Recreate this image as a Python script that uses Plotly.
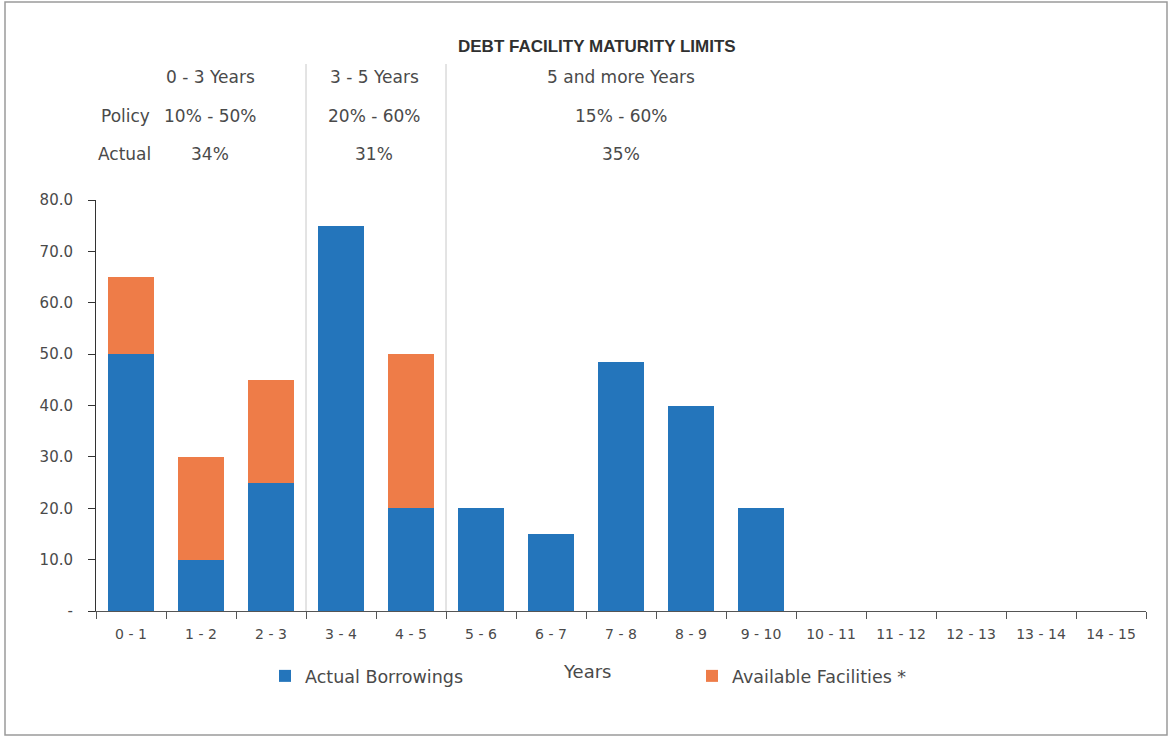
import plotly.graph_objects as go

categories = ["0 - 1", "1 - 2", "2 - 3", "3 - 4", "4 - 5", "5 - 6", "6 - 7", "7 - 8",
              "8 - 9", "9 - 10", "10 - 11", "11 - 12", "12 - 13", "13 - 14", "14 - 15"]
actual_borrowings = [50, 10, 25, 75, 20, 20, 15, 48.5, 40, 20, 0, 0, 0, 0, 0]
available_facilities = [15, 20, 20, 0, 30, 0, 0, 0, 0, 0, 0, 0, 0, 0, 0]
y_tickvals = [0, 10, 20, 30, 40, 50, 60, 70, 80]
y_ticktext = ["-", "10.0", "20.0", "30.0", "40.0", "50.0", "60.0", "70.0", "80.0"]

groups = ["0 - 3 Years", "3 - 5 Years", "5 and more Years"]
policy = ["10% - 50%", "20% - 60%", "15% - 60%"]
actual_pct = ["34%", "31%", "35%"]

W, H = 1171, 738
L, R, T, B = 96, 1146, 200, 611
FONT = "DejaVu Sans"
TXT = "#4a4a4a"

def px_x(px):
    return (px - L) / (R - L)

def px_y(py):
    return (B - py) / (B - T)

fig = go.Figure()
fig.add_trace(go.Bar(x=categories, y=actual_borrowings, name="Actual Borrowings",
                     marker=dict(color="#2475BB", line=dict(width=0)), legend="legend",
                     showlegend=True))
fig.add_trace(go.Bar(x=categories, y=available_facilities, name="Available Facilities *",
                     marker=dict(color="#EE7C48", line=dict(width=0)), legend="legend2",
                     showlegend=True))

def ann(text, x, y, size=17, family=FONT, color=TXT):
    return dict(text=text, x=px_x(x), y=px_y(y), xref="paper", yref="paper",
                xanchor="center", yanchor="middle", showarrow=False,
                font=dict(family=family, size=size, color=color))

annotations = [ann("<b>DEBT FACILITY MATURITY LIMITS</b>", 597, 46, size=17,
                   family="Liberation Sans", color="#303030")]
group_x = [210, 374, 621]
for gx, g, p, a in zip(group_x, groups, policy, actual_pct):
    annotations.append(ann(g, gx, 77))
    annotations.append(ann(p, gx, 116))
    annotations.append(ann(a, gx, 154))
annotations.append(ann("Policy", 125, 116))
annotations.append(ann("Actual", 124, 154))
annotations.append(ann("Years", 587, 671, size=18))

shapes = []
for xb in (2.5, 4.5):
    shapes.append(dict(type="line", xref="x", yref="paper", x0=xb, x1=xb, y0=0, y1=px_y(64),
                       line=dict(color="#c8c8c8", width=1)))
shapes.append(dict(type="rect", xref="paper", yref="paper", x0=px_x(5), x1=px_x(1167),
                   y0=px_y(735), y1=px_y(2), line=dict(color="#9a9a9a", width=1.5),
                   fillcolor="rgba(0,0,0,0)", layer="below"))

fig.update_layout(
    width=W, height=H,
    margin=dict(l=L, r=W - R, t=T, b=H - B, autoexpand=False),
    barmode="stack", bargap=0.33,
    paper_bgcolor="white", plot_bgcolor="white",
    showlegend=True,
    font=dict(family=FONT, size=14, color=TXT),
    annotations=annotations, shapes=shapes,
    legend=dict(orientation="h", x=px_x(265), y=px_y(676), xanchor="left", yanchor="middle",
                font=dict(family=FONT, size=17.5, color=TXT), itemwidth=30,
                bgcolor="rgba(0,0,0,0)"),
    legend2=dict(orientation="h", x=px_x(692), y=px_y(676), xanchor="left", yanchor="middle",
                 font=dict(family=FONT, size=17.5, color=TXT), itemwidth=30,
                 bgcolor="rgba(0,0,0,0)"),
    xaxis=dict(type="category", tickson="boundaries", ticks="outside", ticklen=7,
               tickcolor="#555", showline=True, linecolor="#555", linewidth=1,
               showgrid=False, tickfont=dict(family=FONT, size=14, color=TXT),
               ticklabelstandoff=10, fixedrange=True),
    yaxis=dict(range=[0, 80], tickvals=y_tickvals, ticktext=y_ticktext, ticks="outside",
               ticklen=7, tickcolor="#333", showline=True, linecolor="#333", linewidth=1,
               showgrid=False, zeroline=False, tickfont=dict(family=FONT, size=15, color=TXT),
               ticklabelstandoff=12),
)

fig.write_html("out.html")
